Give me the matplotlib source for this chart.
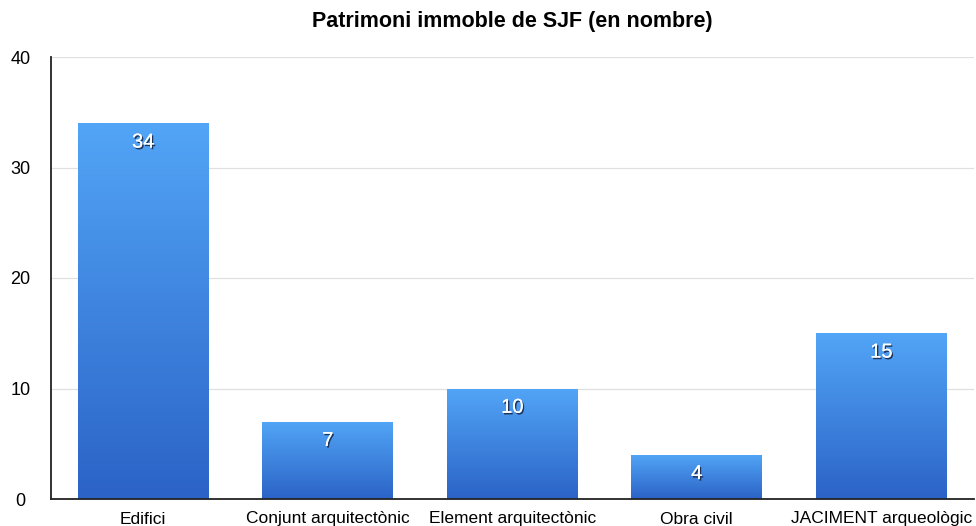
import numpy as np
import matplotlib
matplotlib.use('Agg')
import matplotlib.pyplot as plt
import matplotlib.patheffects as pe
from matplotlib.colors import LinearSegmentedColormap

# ============================================================
# data
# ============================================================
categories = ['Edifici', 'Conjunt arquitectònic', 'Element arquitectònic',
              'Obra civil', 'JACIMENT arqueològic']
values = [34, 7, 10, 4, 15]
yticks = [0, 10, 20, 30, 40]
title = 'Patrimoni immoble de SJF (en nombre)'

plt.rcParams['font.family'] = ['Liberation Sans', 'DejaVu Sans']

# ============================================================
# plot
# ============================================================
fig = plt.figure(figsize=(9.76, 5.26), dpi=100)
ax = fig.add_axes([51 / 976, 1 - 499 / 526, 922.5 / 976, 442 / 526])

x = np.arange(len(categories))
bars = ax.bar(x, values, width=0.71, color='none', zorder=2)

cmap = LinearSegmentedColormap.from_list('blu', ['#2b63c6', '#52a5f7'])
grad = np.linspace(0, 1, 256).reshape(-1, 1)
for b, v in zip(bars, values):
    x0 = b.get_x()
    im = ax.imshow(grad, cmap=cmap, aspect='auto', origin='lower',
                   extent=[x0, x0 + b.get_width(), 0, v], zorder=2)
    im.set_clip_path(b)
    ax.text(b.get_x() + b.get_width() / 2, v - 1.7, str(v),
            ha='center', va='center', color='white', fontsize=14.5,
            zorder=4,
            path_effects=[pe.withSimplePatchShadow(offset=(1, -1.2),
                                                   shadow_rgbFace='#1a2a4a',
                                                   alpha=0.9),
                          pe.Normal()])

ax.set_xlim(-0.5, len(categories) - 0.5)
ax.set_ylim(0, 40)
ax.set_yticks(yticks)
ax.set_xticks(x)
ax.set_xticklabels(categories, fontsize=12.5)
ax.tick_params(axis='y', labelsize=13, length=0, pad=22)
ax.tick_params(axis='x', length=0, pad=9)
for lbl in ax.get_yticklabels():
    lbl.set_horizontalalignment('center')
ax.grid(axis='y', color='#e0e0e0', linewidth=0.9, zorder=0)
ax.set_axisbelow(True)

for s in ['top', 'right']:
    ax.spines[s].set_visible(False)
ax.spines['left'].set_color('#222222')
ax.spines['left'].set_linewidth(1.3)
ax.spines['bottom'].set_color('#222222')
ax.spines['bottom'].set_linewidth(1.3)

fig.text(512 / 976, 1 - 22 / 526, title, ha='center', va='center',
         fontsize=15.5, fontweight='bold')

plt.savefig('out.png', dpi=100)
